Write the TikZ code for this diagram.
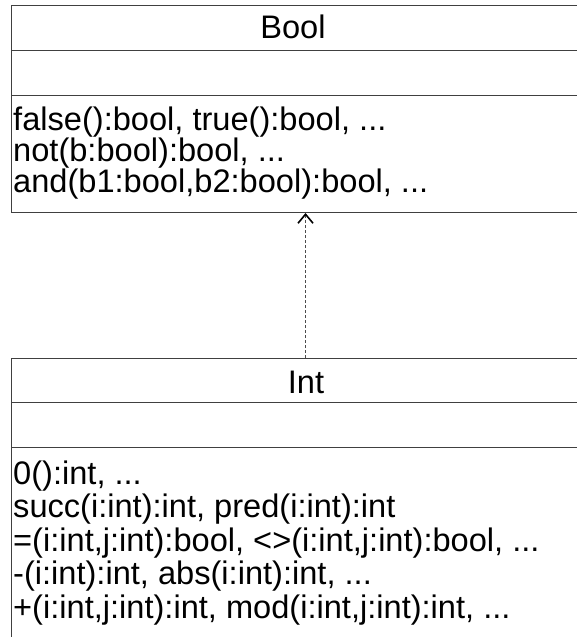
\documentclass[tikz,border=0pt]{standalone}
\usepackage{fontspec}
\setmainfont{Liberation Sans}
\usetikzlibrary{arrows.meta,positioning}
\tikzset{
  classbox/.style={draw=black!75, line width=1pt, minimum width=588pt, anchor=north west, inner sep=0pt},
  divider/.style={draw=black!75, line width=1pt},
  cname/.style={font=\fontsize{32.6}{30}\selectfont, anchor=base, inner sep=0pt},
  ops/.style={font=\fontsize{32.6}{30}\selectfont, anchor=base west, align=left, inner sep=0pt}, % base = last line
  dep/.style={draw=black!70, line width=0.8pt, dash pattern=on 3pt off 2pt,
    -{Straight Barb[length=9pt,width=15pt,line width=1.6pt,black]}}
}

\begin{document}
\begin{tikzpicture}[x=1pt, y=-1pt]
  \useasboundingbox (0,0) rectangle (576,637);

  \node[classbox, minimum height=207pt] (bool) at (11,5) {};
  \node[classbox, minimum height=320pt] (int) at (11,358) {};

  \draw[divider] ([yshift=-45pt]bool.north west) -- ([yshift=-45pt]bool.north east);
  \draw[divider] ([yshift=-90pt]bool.north west) -- ([yshift=-90pt]bool.north east);
  \draw[divider] ([yshift=-44pt]int.north west) -- ([yshift=-44pt]int.north east);
  \draw[divider] ([yshift=-89pt]int.north west) -- ([yshift=-89pt]int.north east);

  \node[cname] (boolname) at (293,38) {Bool};
  \node[ops, font=\fontsize{32.6}{31}\selectfont] (boolops) at (13,192) {false():bool, true():bool, ...\\
    not(b:bool):bool, ...\\
    and(b1:bool,b2:bool):bool, ...};

  \node[cname] (intname) at (306,393) {Int};
  \node[ops, font=\fontsize{32.6}{33.5}\selectfont] (intops) at (13,618) {0():int, ...\\
    succ(i:int):int, pred(i:int):int\\
    =(i:int,j:int):bool, <>(i:int,j:int):bool, ...\\
    -(i:int):int, abs(i:int):int, ...\\
    +(i:int,j:int):int, mod(i:int,j:int):int, ...};

  \draw[dep] (int.north) -- (bool.south);
\end{tikzpicture}
\end{document}
